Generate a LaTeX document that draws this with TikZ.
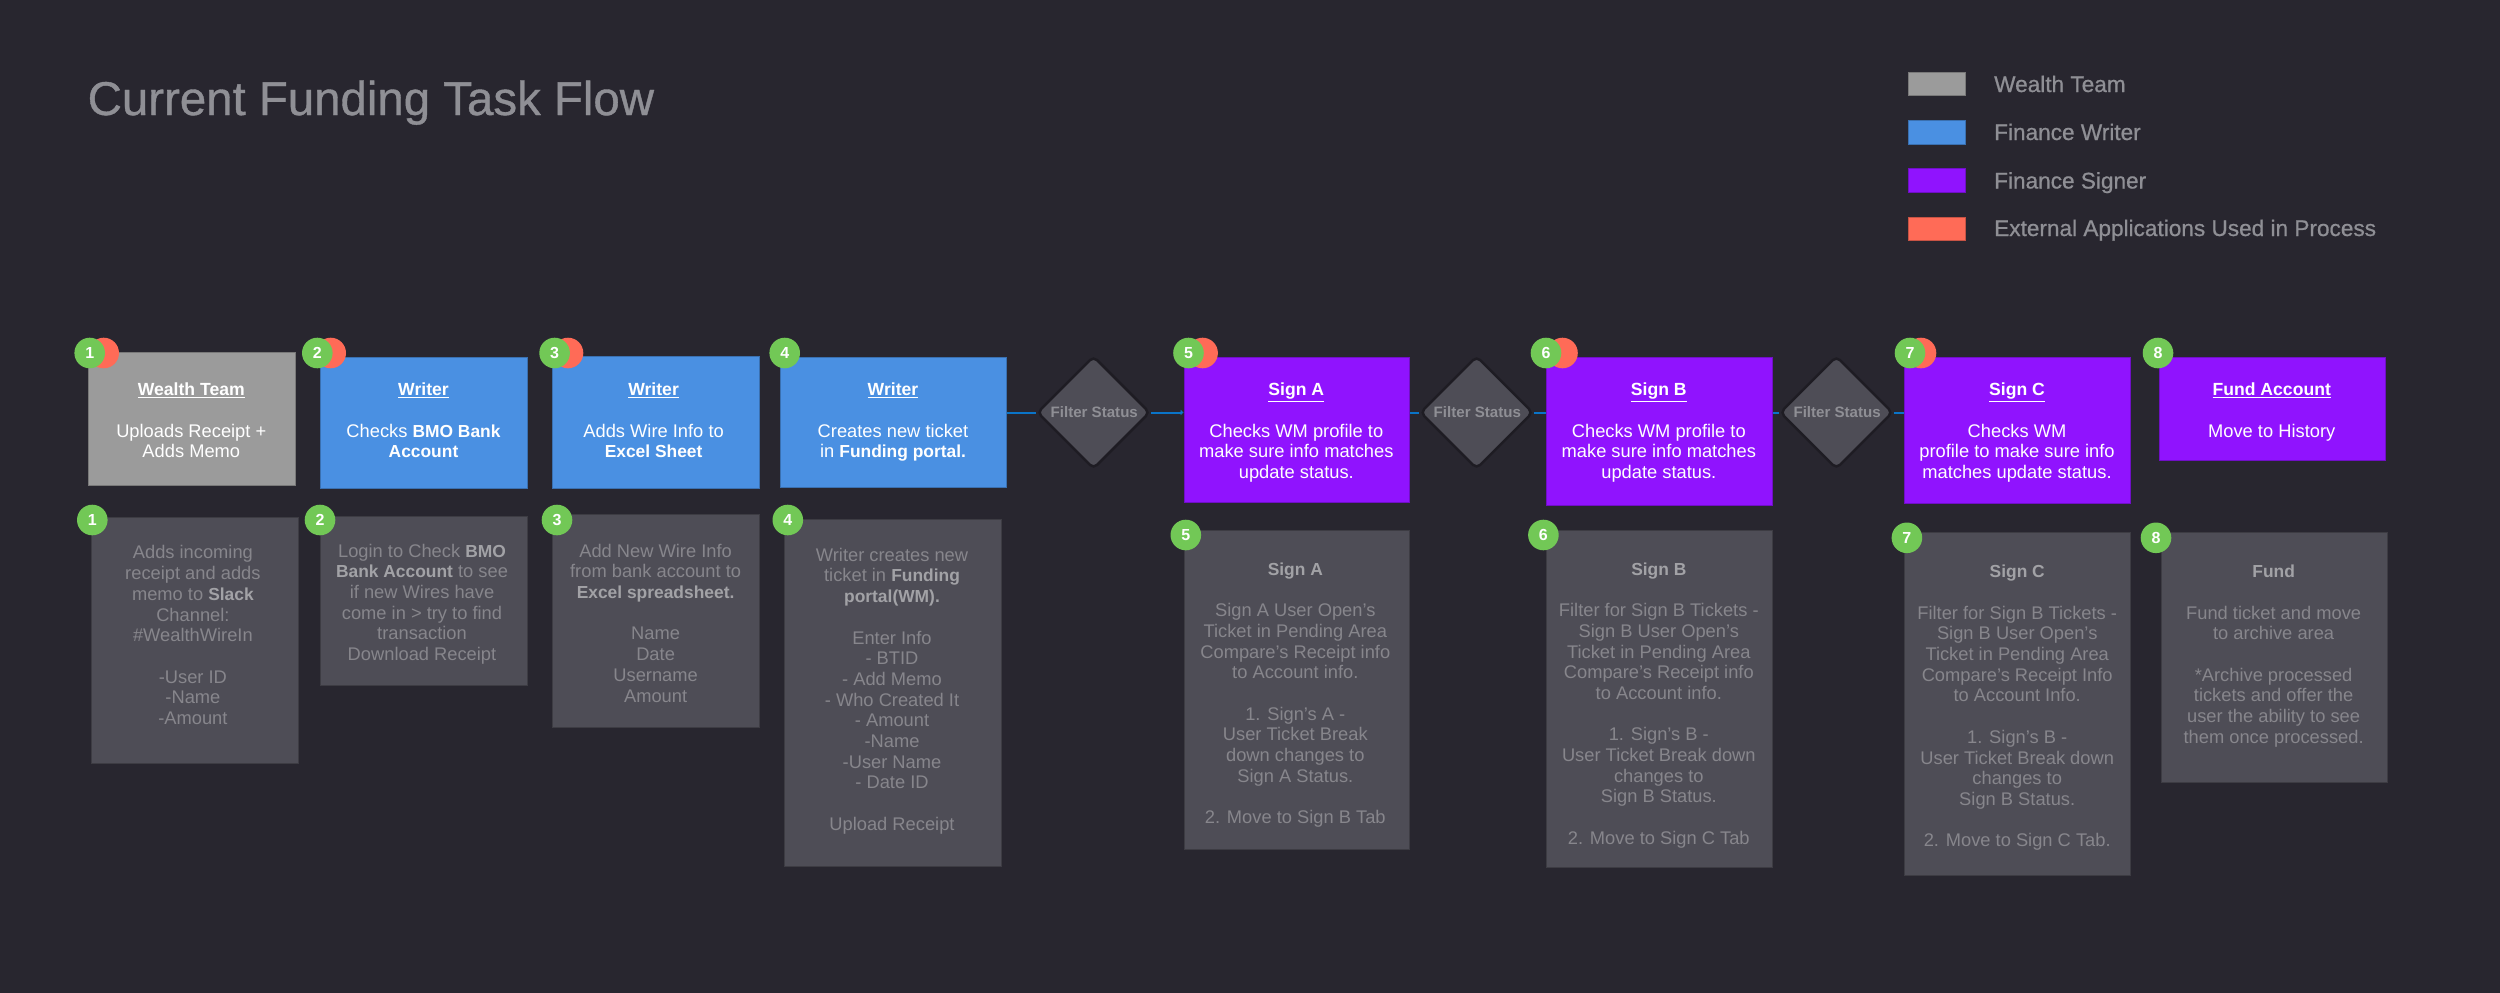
\documentclass[tikz,border=0pt]{standalone}
\usepackage{fontspec}
\setmainfont{Liberation Sans}
\newfontfamily\medfont[FakeBold=0.8]{Liberation Sans}
\usetikzlibrary{shapes.geometric,arrows.meta}
\definecolor{bgc}{HTML}{28262F}
\definecolor{grayc}{HTML}{9B9B9B}
\definecolor{bluec}{HTML}{4A90E2}
\definecolor{purplec}{HTML}{9013FE}
\definecolor{redc}{HTML}{FF6B57}
\definecolor{greenc}{HTML}{72C856}
\definecolor{detailc}{HTML}{4E4D56}
\definecolor{mutedc}{HTML}{87868C}
\definecolor{strongc}{HTML}{A2A2A6}
\definecolor{titlec}{HTML}{8F8F95}
\definecolor{linec}{HTML}{0A74C8}
\newcommand{\bodysize}{\fontsize{18.3}{20.7}\selectfont}
\newcommand{\bd}[1]{{\fontsize{17.4}{20.7}\selectfont\bfseries #1}}
\newcommand{\strongtxt}[1]{{\fontsize{17.4}{20.7}\selectfont\bfseries\color{strongc}#1}}
\newcommand{\hd}[1]{{\fontsize{17.6}{20.7}\selectfont\bfseries\underline{#1}}}
\tikzset{
  panel/.style={rectangle,inner sep=0pt,anchor=north west,draw=#1!78!black,line width=.8pt,fill=#1},
  swatch/.style={panel=#1,minimum width=57pt,minimum height=23.5pt},
  toptext/.style={align=center,inner sep=0pt,anchor=north,text=white,font=\bodysize},
  dettext/.style={align=center,inner sep=0pt,anchor=north,text=mutedc,font=\bodysize},
  legtext/.style={inner sep=0pt,anchor=base west,text=titlec,font=\medfont\fontsize{22.6}{26}\selectfont},
  badge/.style={circle,inner sep=0pt,minimum size=30.6pt,fill=greenc,text=white,font=\bfseries\fontsize{16}{17}\selectfont},
  extbadge/.style={circle,inner sep=0pt,minimum size=30.6pt,fill=redc},
  filter/.style={diamond,aspect=1,inner sep=0pt,minimum width=113pt,minimum height=113pt,fill=detailc,draw=black!25!bgc,line width=2.5pt,rounded corners=5pt,text=titlec,font=\bfseries\fontsize{15.1}{17}\selectfont},
  conn/.style={draw=linec,line width=2pt},
  connarrow/.style={conn,-{Latex[length=3pt,width=6pt]}},
}
\begin{document}
\begin{tikzpicture}[x=1pt,y=-1pt]
\useasboundingbox (0,0) rectangle (2500,993);
\fill[bgc] (0,0) rectangle (2500,993);
% title
\node[inner sep=0pt,anchor=base west,text=titlec,font=\medfont\fontsize{47.4}{56}\selectfont] (title) at (87.5,115) {Current Funding Task Flow};
% legend
\node[swatch=grayc] (lg1) at (1908,71.7) {};
\node[swatch=bluec] (lg2) at (1908,120) {};
\node[swatch=purplec] (lg3) at (1908,168.3) {};
\node[swatch=redc] (lg4) at (1908,216.7) {};
\node[legtext] (lt1) at (1994,92) {Wealth Team};
\node[legtext] (lt2) at (1994,140) {Finance Writer};
\node[legtext] (lt3) at (1994,188.5) {Finance Signer};
\node[legtext] (lt4) at (1994,236) {External Applications Used in Process};
% top boxes
\node[panel=grayc,minimum width=207pt,minimum height=133.6pt] (b1) at (88.3,351.7) {};
\node[panel=bluec,minimum width=206.5pt,minimum height=131pt] (b2) at (320,357) {};
\node[panel=bluec,minimum width=207pt,minimum height=132.3pt] (b3) at (551.5,355.7) {};
\node[panel=bluec,minimum width=226pt,minimum height=129.8pt] (b4) at (780.4,357) {};
\node[panel=purplec,minimum width=225.4pt,minimum height=145pt] (b5) at (1183.6,357) {};
\node[panel=purplec,minimum width=225.7pt,minimum height=147.7pt] (b6) at (1546,357) {};
\node[panel=purplec,minimum width=225.7pt,minimum height=146pt] (b7) at (1904.3,357) {};
\node[panel=purplec,minimum width=225.8pt,minimum height=103.4pt] (b8) at (2159.4,357) {};
% filter decisions
\node[filter] (d1) at (1093.5,412.5) {\makebox[0pt]{\hspace{1.5pt}Filter Status}};
\node[filter] (d2) at (1476.6,412.5) {\makebox[0pt]{\hspace{1.5pt}Filter Status}};
\node[filter] (d3) at (1836.4,412.5) {\makebox[0pt]{\hspace{1.5pt}Filter Status}};
% connectors
\draw[conn] (b4.east |- d1.west) -- (d1.west);
\draw[connarrow] (d1.east) -- (d1.east -| b5.west);
\draw[conn] (b5.east |- d2.west) -- (d2.west);
\draw[conn] (d2.east) -- (d2.east -| b6.west);
\draw[conn] (b6.east |- d3.west) -- (d3.west);
\draw[conn] (d3.east) -- (d3.east -| b7.west);
% detail boxes
\node[panel=detailc,minimum width=207pt,minimum height=245.7pt] (p1) at (91,517) {};
\node[panel=detailc,minimum width=206.5pt,minimum height=169.6pt] (p2) at (320,515.7) {};
\node[panel=detailc,minimum width=207.2pt,minimum height=212.4pt] (p3) at (551.5,514.3) {};
\node[panel=detailc,minimum width=217.4pt,minimum height=347.1pt] (p4) at (783.6,518.6) {};
\node[panel=detailc,minimum width=225.4pt,minimum height=319.7pt] (p5) at (1183.6,529.6) {};
\node[panel=detailc,minimum width=225.7pt,minimum height=337.8pt] (p6) at (1546,529.5) {};
\node[panel=detailc,minimum width=225.7pt,minimum height=342.9pt] (p7) at (1904.3,532.4) {};
\node[panel=detailc,minimum width=225.8pt,minimum height=249.4pt] (p8) at (2160.7,532.4) {};
% top text
\node[toptext] (tt1) at (191.3,381) {\strut\hd{Wealth Team}\\[20.7pt]Uploads Receipt +\\Adds Memo};
\node[toptext] (tt2) at (423.5,381) {\strut\hd{Writer}\\[20.7pt]Checks \bd{BMO Bank}\\\bd{Account}};
\node[toptext] (tt3) at (653.6,381) {\strut\hd{Writer}\\[20.7pt]Adds Wire Info to\\\bd{Excel Sheet}};
\node[toptext] (tt4) at (893,381) {\strut\hd{Writer}\\[20.7pt]Creates new ticket\\in \bd{Funding portal.}};
\node[toptext] (tt5) at (1296.3,381) {\strut\hd{Sign A}\\[20.7pt]Checks WM profile to\\make sure info matches\\update status.};
\node[toptext] (tt6) at (1658.8,381) {\strut\hd{Sign B}\\[20.7pt]Checks WM profile to\\make sure info matches\\update status.};
\node[toptext] (tt7) at (2017,381) {\strut\hd{Sign C}\\[20.7pt]Checks WM\\profile to make sure info\\matches update status.};
\node[toptext] (tt8) at (2271.7,381) {\strut\hd{Fund Account}\\[20.7pt]Move to History};
% detail text
\node[dettext] (dt1) at (192.9,544.2) {\strut Adds incoming\\receipt and adds\\memo to \strongtxt{Slack}\\Channel:\\\#WealthWireIn\\[20.7pt]-User ID\\-Name\\-Amount};
\node[dettext] (dt2) at (422,542.5) {\strut Login to Check \strongtxt{BMO}\\\strongtxt{Bank Account} to see\\if new Wires have\\come in > try to find\\transaction\\Download Receipt};
\node[dettext] (dt3) at (655.6,542.5) {\strut Add New Wire Info\\from bank account to\\\strongtxt{Excel spreadsheet.}\\[20.7pt]Name\\Date\\Username\\Amount};
\node[dettext] (dt4) at (892,546.5) {\strut Writer creates new\\ticket in \strongtxt{Funding}\\\strongtxt{portal(WM).}\\[20.7pt]Enter Info\\- BTID\\- Add Memo\\- Who Created It\\- Amount\\-Name\\-User Name\\- Date ID\\[20.7pt]Upload Receipt};
\node[dettext] (dt5) at (1295.3,560.5) {\strut\strongtxt{Sign A}\\[20.7pt]Sign A User Open’s\\Ticket in Pending Area\\Compare’s Receipt info\\to Account info.\\[20.7pt]1. Sign’s A -\\User Ticket Break\\down changes to\\Sign A Status.\\[20.7pt]2. Move to Sign B Tab};
\node[dettext] (dt6) at (1658.8,560.5) {\strut\strongtxt{Sign B}\\[20.7pt]Filter for Sign B Tickets -\\Sign B User Open’s\\Ticket in Pending Area\\Compare’s Receipt info\\to Account info.\\[20.7pt]1. Sign’s B -\\User Ticket Break down\\changes to\\Sign B Status.\\[20.7pt]2. Move to Sign C Tab};
\node[dettext] (dt7) at (2017.2,563) {\strut\strongtxt{Sign C}\\[20.7pt]Filter for Sign B Tickets -\\Sign B User Open’s\\Ticket in Pending Area\\Compare’s Receipt Info\\to Account Info.\\[20.7pt]1. Sign’s B -\\User Ticket Break down\\changes to\\Sign B Status.\\[20.7pt]2. Move to Sign C Tab.};
\node[dettext] (dt8) at (2273.6,563) {\strut\strongtxt{Fund}\\[20.7pt]Fund ticket and move\\to archive area\\[20.7pt]*Archive processed\\tickets and offer the\\user the ability to see\\them once processed.};
% badges
\node[extbadge] (x1) at (103.7,353) {};
\node[extbadge] (x2) at (330.7,353) {};
\node[extbadge] (x3) at (568,353) {};
\node[extbadge] (x5) at (1202.6,353) {};
\node[extbadge] (x6) at (1562.5,353) {};
\node[extbadge] (x7) at (1921,353) {};
\node[badge] (n1) at (89.7,353) {1};
\node[badge] (n2) at (317.3,353) {2};
\node[badge] (n3) at (554.6,353) {3};
\node[badge] (n4) at (784.7,353) {4};
\node[badge] (n5) at (1188.5,353) {5};
\node[badge] (n6) at (1546,353) {6};
\node[badge] (n7) at (1910,353) {7};
\node[badge] (n8) at (2158,353) {8};
\node[badge] (m1) at (92.3,520) {1};
\node[badge] (m2) at (320,520) {2};
\node[badge] (m3) at (557,520) {3};
\node[badge] (m4) at (787.8,520) {4};
\node[badge] (m5) at (1185.8,535) {5};
\node[badge] (m6) at (1543.4,535) {6};
\node[badge] (m7) at (1906.9,537.8) {7};
\node[badge] (m8) at (2156,537.8) {8};
\end{tikzpicture}
\end{document}
